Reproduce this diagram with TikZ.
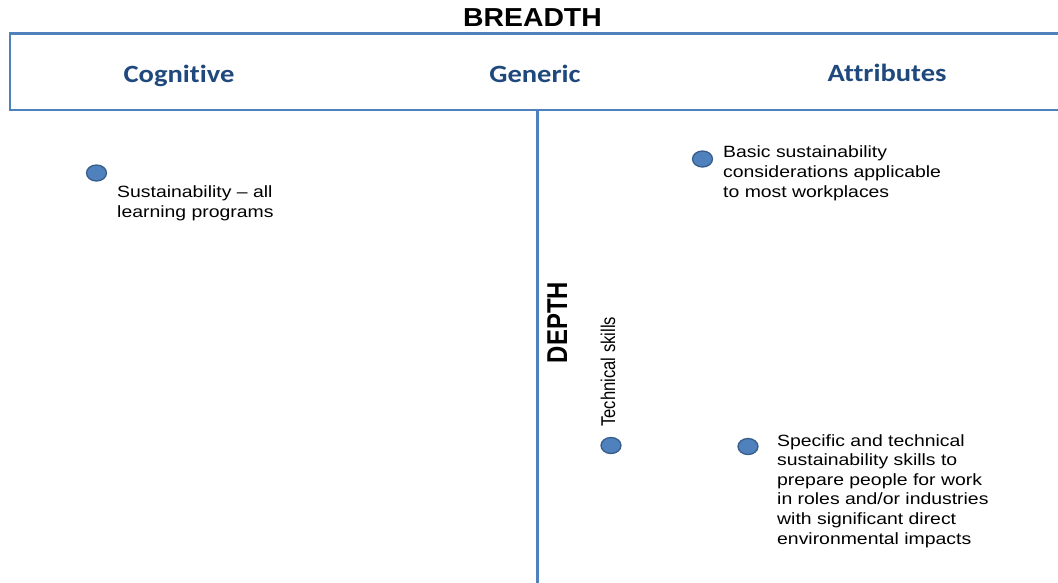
\documentclass[tikz,border=0pt]{standalone}
\usepackage{fontspec}
\usetikzlibrary{shapes.geometric}
\newfontfamily\bodyf[FakeStretch=1.19]{Liberation Sans}
\newfontfamily\headf[FakeStretch=1.15,Ligatures={NoCommon}]{Carlito}
\newfontfamily\titlef[FakeStretch=1.09]{Liberation Sans}
\newfontfamily\rotf{Liberation Sans}
\definecolor{lineblue}{HTML}{4F81BD}
\definecolor{headblue}{HTML}{1F497D}
\definecolor{dotborder}{HTML}{385D8A}
\begin{document}
\begin{tikzpicture}[x=1pt,y=-1pt,
  frame/.style={draw=lineblue,line width=2.8pt},
  head/.style={inner sep=0pt,anchor=base,text=headblue,font=\headf\bfseries\fontsize{24.8}{28}\selectfont},
  body/.style={inner sep=0pt,anchor=base west,align=left,font=\bodyf\fontsize{16.3}{19.8}\selectfont},
  dotm/.style={ellipse,draw=dotborder,line width=1.3pt,fill=lineblue,minimum width=20pt,minimum height=16pt,inner sep=0pt}]
\useasboundingbox (0,0) rectangle (1058,582);
\fill[white] (0,0) rectangle (1058,582);
% frame
\coordinate (tr) at (1062,33.3);
\coordinate (tl) at (10,33.3);
\coordinate (bl) at (10,110);
\coordinate (br) at (1062,110);
\draw[frame] (tr) -- (tl) -- (bl) -- (br);
\coordinate (vtop) at (537.6,110);
\coordinate (vbot) at (537.6,585);
\draw[frame] (vtop) -- (vbot);
% titles
\node[inner sep=0pt,anchor=base,font=\titlef\bfseries\fontsize{26}{30}\selectfont] (breadth) at (532.5,26) {BREADTH};
\node[head] (cog) at (179,82.5) {Cognitive};
\node[head] (gen) at (535,82) {Generic};
\node[head] (att) at (887,81.7) {Attributes};
% depth labels
\node[inner sep=0pt,anchor=base,rotate=90,font=\rotf\bfseries\fontsize{23.9}{26}\selectfont] (depth) at (567,322.5) {\scalebox{1}[1.2]{DEPTH}};
\node[inner sep=0pt,anchor=base,rotate=90,font=\rotf\fontsize{16.6}{19}\selectfont] (tech) at (615,371.7) {\scalebox{1}[1.2]{Technical skills}};
% dots
\node[dotm] (d1) at (96.5,173) {};
\node[dotm] (d2) at (702.5,159) {};
\node[dotm] (d3) at (611,445.5) {};
\node[dotm] (d4) at (748,446.5) {};
% texts (anchored at the baseline of the last line)
\node[body] (t1) at (117,217.5) {Sustainability – all\\learning programs};
\node[body,font=\bodyf\fontsize{16.3}{20.2}\selectfont] (t2) at (723,197.7) {Basic sustainability\\considerations applicable\\to most workplaces};
\node[body,font=\bodyf\fontsize{16.3}{19.6}\selectfont] (t4) at (777,544) {Specific and technical\\sustainability skills to\\prepare people for work\\in roles and/or industries\\with significant direct\\environmental impacts};
\end{tikzpicture}
\end{document}
